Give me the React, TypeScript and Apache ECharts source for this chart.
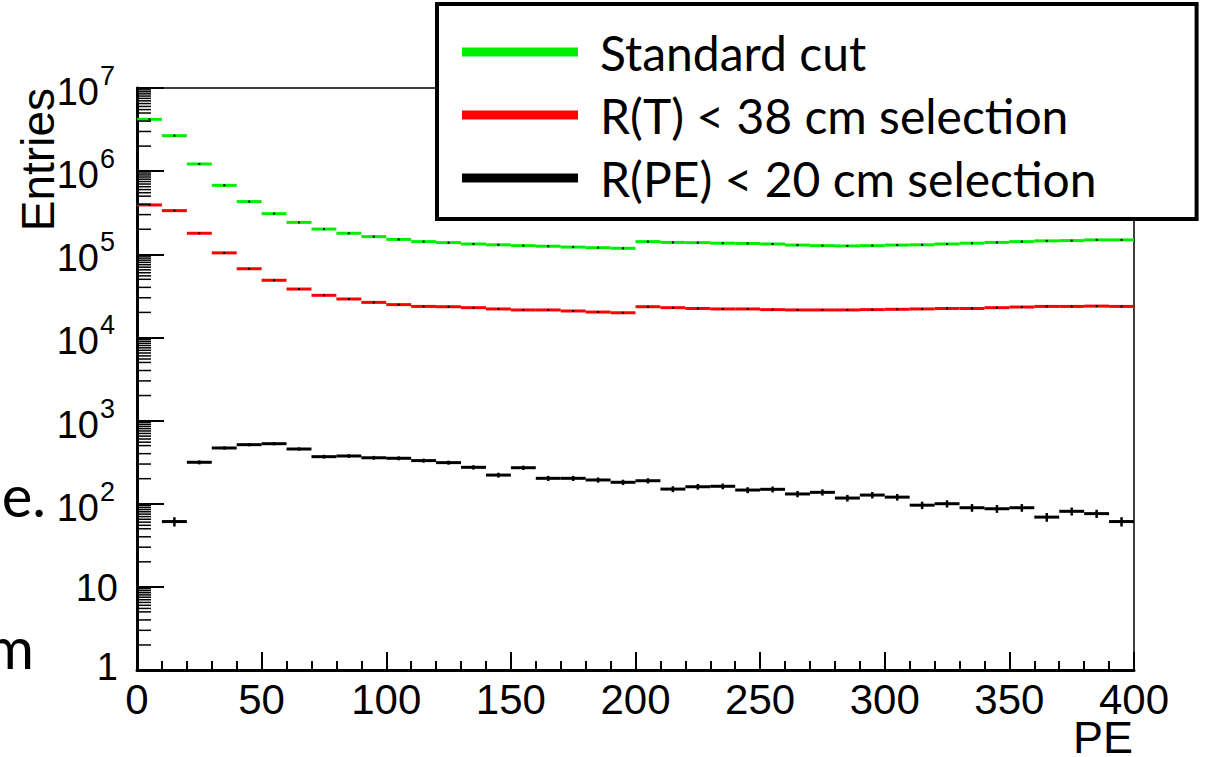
import React, { useEffect, useRef } from "react";
import * as echarts from "echarts";

// bin lower edges (PE), bin width 10
const BIN_LOW = [0, 10, 20, 30, 40, 50, 60, 70, 80, 90, 100, 110, 120, 130, 140, 150, 160, 170, 180, 190,
  200, 210, 220, 230, 240, 250, 260, 270, 280, 290, 300, 310, 320, 330, 340, 350, 360, 370, 380, 390];
const BIN_WIDTH = 10;

const STANDARD = [4.2e6, 2.67e6, 1.22e6, 6.75e5, 4.3e5, 3.08e5, 2.42e5, 2.01e5, 1.79e5, 1.63e5,
  1.51e5, 1.42e5, 1.38e5, 1.33e5, 1.3e5, 1.27e5, 1.25e5, 1.22e5, 1.2e5, 1.18e5,
  1.42e5, 1.39e5, 1.38e5, 1.36e5, 1.35e5, 1.33e5, 1.29e5, 1.27e5, 1.26e5, 1.27e5,
  1.29e5, 1.3e5, 1.33e5, 1.36e5, 1.39e5, 1.42e5, 1.45e5, 1.46e5, 1.49e5, 1.49e5];

const RT38 = [3.92e5, 3.35e5, 1.79e5, 1.04e5, 6.7e4, 4.87e4, 3.82e4, 3.21e4, 2.9e4, 2.64e4,
  2.48e4, 2.36e4, 2.34e4, 2.28e4, 2.2e4, 2.14e4, 2.14e4, 2.08e4, 2.02e4, 1.98e4,
  2.34e4, 2.28e4, 2.23e4, 2.2e4, 2.2e4, 2.16e4, 2.14e4, 2.14e4, 2.14e4, 2.16e4,
  2.18e4, 2.2e4, 2.23e4, 2.23e4, 2.28e4, 2.32e4, 2.36e4, 2.36e4, 2.38e4, 2.36e4];

const RPE20 = [null, 61, 315, 468, 513, 527, 455, 368, 375, 357,
  352, 330, 312, 274, 221, 271, 202, 202, 193, 181,
  189, 150, 160, 162, 146, 149, 131, 137, 117, 127,
  120, 96, 100, 89.5, 87, 89.5, 69, 81, 76, 61];

const SERIES_NAMES = ["Standard cut", "R(T) < 38 cm selection", "R(PE) < 20 cm selection"];
const SERIES_COLORS = ["#00ee00", "#ff0000", "#000000"];

// y tick labels: value, base text, exponent text
const Y_TICK_VALUES = [1, 10, 100, 1000, 10000, 100000, 1000000, 10000000];
const Y_TICK_BASE = ["1", "10", "10", "10", "10", "10", "10", "10"];
const Y_TICK_EXP = ["", "", "2", "3", "4", "5", "6", "7"];

const Y_DECADES = [1, 10, 100, 1000, 10000, 100000, 1000000];
const MINOR_MANTISSA = [2, 3, 4, 5, 5.5, 6, 6.5, 7, 7.5, 8, 8.5, 9, 9.5];

const AXIS_FONT = "Liberation Sans";

function histData(vals: (number | null)[]) {
  const out: any[] = [];
  vals.forEach((v, i) => {
    if (v == null) return;
    out.push([BIN_LOW[i], BIN_LOW[i] + BIN_WIDTH, v, Math.sqrt(v)]);
  });
  return out;
}

function makeHistSeries(name: string, color: string, vals: (number | null)[], showErr: boolean) {
  return {
    type: "custom",
    name,
    itemStyle: { color },
    clip: true,
    encode: { x: [0, 1], y: 2 },
    data: histData(vals),
    renderItem: (params: any, api: any) => {
      const x0 = api.value(0);
      const x1 = api.value(1);
      const v = api.value(2);
      const e = api.value(3);
      const mid = (x0 + x1) / 2;
      const p0 = api.coord([x0, v]);
      const p1 = api.coord([x1, v]);
      const pc = api.coord([mid, v]);
      const children: any[] = [
        {
          type: "line",
          shape: { x1: p0[0], y1: p0[1], x2: p1[0], y2: p1[1] },
          style: { stroke: color, lineWidth: 3 },
        },
      ];
      if (showErr) {
        const pu = api.coord([mid, v + e]);
        const pl = api.coord([mid, Math.max(v - e, 1)]);
        children.push({
          type: "line",
          shape: { x1: pc[0], y1: pu[1], x2: pc[0], y2: pl[1] },
          style: { stroke: "#000", lineWidth: 2.5 },
        });
      } else {
        children.push({
          type: "rect",
          shape: { x: pc[0] - 1, y: pc[1] - 1, width: 2, height: 2 },
          style: { fill: "#000" },
        });
      }
      return { type: "group", children };
    },
  };
}

function minorTickData() {
  const out: any[] = [];
  Y_DECADES.forEach((d) => {
    MINOR_MANTISSA.forEach((m) => out.push([0, d * m]));
  });
  return out;
}

export default function App() {
  const ref = useRef<HTMLDivElement>(null);
  useEffect(() => {
    if (!ref.current) return;
    const chart = echarts.init(ref.current, null, { renderer: "svg" });
    const option: any = {
      animation: false,
      backgroundColor: "#ffffff",
      grid: {
        left: 137,
        right: 74,
        top: 88,
        bottom: 87,
        show: true,
        borderColor: "#000",
        borderWidth: 1.5,
        backgroundColor: "transparent",
      },
      legend: {
        left: 437,
        top: 4,
        orient: "vertical",
        data: SERIES_NAMES.map((n, i) => ({ name: n, itemStyle: { color: SERIES_COLORS[i] } })),
        icon: "rect",
        itemWidth: 116,
        itemHeight: 9,
        itemGap: 13,
        padding: [23, 100, 16, 25],
        backgroundColor: "#fff",
        borderColor: "#000",
        borderWidth: 4,
        borderRadius: 0,
        selectedMode: false,
        textStyle: {
          fontFamily: "Lato",
          fontSize: 48,
          color: "#000",
          lineHeight: 50,
          padding: [0, 0, 0, 17],
        },
      },
      xAxis: {
        type: "value",
        min: 0,
        max: 400,
        interval: 50,
        splitLine: { show: false },
        axisLine: { show: true, onZero: false, lineStyle: { color: "#000", width: 3 } },
        axisTick: { show: true, inside: true, length: 18, lineStyle: { color: "#000", width: 2 } },
        minorTick: { show: true, splitNumber: 5, length: 9, lineStyle: { color: "#000", width: 2 } },
        axisLabel: {
          fontFamily: AXIS_FONT,
          fontSize: 42,
          lineHeight: 30,
          color: "#000",
          margin: 14,
          showMinLabel: true,
          showMaxLabel: true,
        },
      },
      yAxis: {
        type: "log",
        logBase: 10,
        min: 1,
        max: 1e7,
        interval: 1,
        splitLine: { show: false },
        axisLine: { show: true, onZero: false, lineStyle: { color: "#000", width: 3 } },
        axisTick: { show: true, inside: true, length: 27, lineStyle: { color: "#000", width: 2 } },
        minorTick: { show: false },
        axisLabel: { show: false },
      },
      graphic: [
        {
          type: "text",
          x: 38,
          y: 88,
          rotation: Math.PI / 2,
          style: {
            text: "Entries",
            fontFamily: AXIS_FONT,
            fontSize: 46,
            fill: "#000",
            align: "right",
            verticalAlign: "middle",
          },
        },
        {
          type: "text",
          x: 1133,
          y: 737,
          style: {
            text: "PE",
            fontFamily: AXIS_FONT,
            fontSize: 45,
            lineHeight: 36,
            fill: "#000",
            align: "right",
            verticalAlign: "middle",
          },
        },
        {
          type: "text",
          x: 46,
          y: 494,
          style: {
            text: "e.",
            fontFamily: "Lato",
            fontSize: 58,
            fill: "#000",
            align: "right",
            verticalAlign: "middle",
          },
        },
        {
          type: "text",
          x: 34,
          y: 646,
          style: {
            text: "m",
            fontFamily: "Lato",
            fontSize: 58,
            fill: "#000",
            align: "right",
            verticalAlign: "middle",
          },
        },
      ],
      series: [
        makeHistSeries(SERIES_NAMES[0], SERIES_COLORS[0], STANDARD, false),
        makeHistSeries(SERIES_NAMES[1], SERIES_COLORS[1], RT38, false),
        makeHistSeries(SERIES_NAMES[2], SERIES_COLORS[2], RPE20, true),
        {
          type: "custom",
          name: "yMinorTicks",
          silent: true,
          clip: false,
          encode: { x: 0, y: 1 },
          data: minorTickData(),
          renderItem: (params: any, api: any) => {
            const p = api.coord([api.value(0), api.value(1)]);
            return {
              type: "line",
              shape: { x1: p[0], y1: p[1], x2: p[0] + 14, y2: p[1] },
              style: { stroke: "#000", lineWidth: 1.5 },
            };
          },
        },
        {
          type: "custom",
          name: "yTickLabels",
          silent: true,
          clip: false,
          encode: { x: 0, y: 1 },
          data: Y_TICK_VALUES.map((v, i) => [0, v, i]),
          renderItem: (params: any, api: any) => {
            const i = api.value(2);
            const p = api.coord([api.value(0), api.value(1)]);
            const base = Y_TICK_BASE[i];
            const exp = Y_TICK_EXP[i];
            if (!exp) {
              return {
                type: "text",
                x: p[0] - 19,
                y: p[1] + (base === "1" ? -3 : 1),
                style: {
                  text: base,
                  fontFamily: AXIS_FONT,
                  fontSize: 38,
                  fill: "#000",
                  align: "right",
                  verticalAlign: "middle",
                },
              };
            }
            return {
              type: "group",
              children: [
                {
                  type: "text",
                  x: p[0] - 38,
                  y: p[1] + 4,
                  style: {
                    text: base,
                    fontFamily: AXIS_FONT,
                    fontSize: 38,
                    fill: "#000",
                    align: "right",
                    verticalAlign: "middle",
                  },
                },
                {
                  type: "text",
                  x: p[0] - 37,
                  y: p[1] - 12,
                  style: {
                    text: exp,
                    fontFamily: AXIS_FONT,
                    fontSize: 27,
                    fill: "#000",
                    align: "left",
                    verticalAlign: "middle",
                  },
                },
              ],
            };
          },
        },
      ],
    };
    chart.setOption(option);
    return () => chart.dispose();
  }, []);
  return (
    <div
      ref={ref}
      style={{ position: "absolute", left: 0, top: 0, width: 1208, height: 757, background: "#fff" }}
    />
  );
}
